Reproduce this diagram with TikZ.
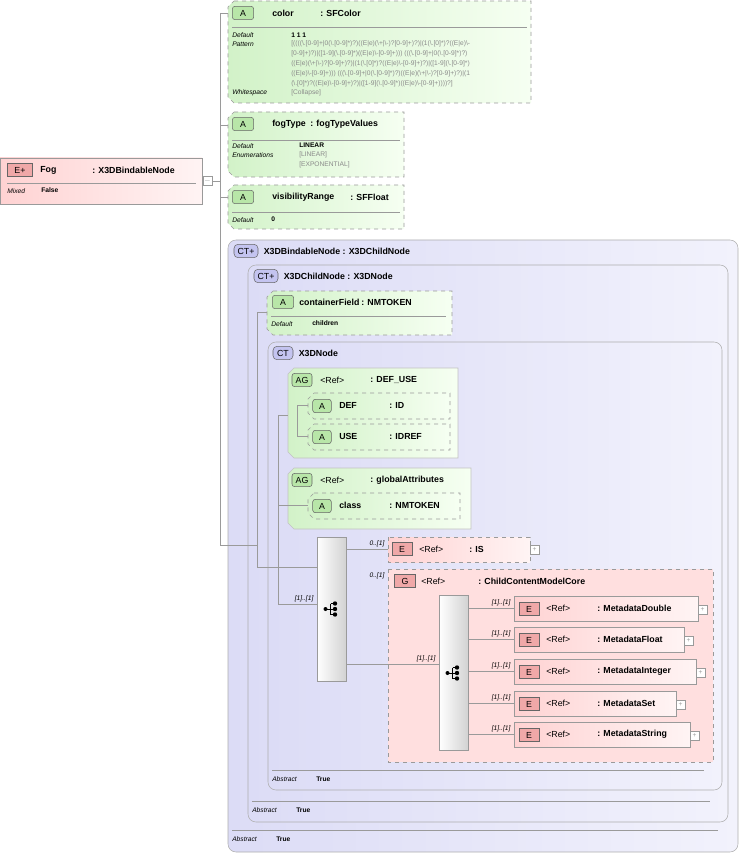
\documentclass[tikz,border=0pt]{standalone}
\usepackage{fontspec}
\setmainfont{Liberation Sans}
\usetikzlibrary{positioning,calc}
\definecolor{attrG}{HTML}{D2F2C8}
\definecolor{attrW}{HTML}{F6FFF2}
\definecolor{elemP}{HTML}{FFD2D2}
\definecolor{elemW}{HTML}{FFF4F4}
\definecolor{ctB}{HTML}{DCDCF6}
\definecolor{ctW}{HTML}{F2F2FC}
\definecolor{lineG}{HTML}{9A9A9A}
\definecolor{txtG}{HTML}{8A8A8A}
\definecolor{badgeG}{HTML}{B8E6A8}
\definecolor{badgeP}{HTML}{F0A8A8}
\definecolor{badgeL}{HTML}{C4C4F0}
\newcommand\nm{\fontsize{6.6}{7.5}\selectfont\bfseries}
\newcommand\sm{\fontsize{5}{6}\selectfont}
% chamfered left corners
\newcommand\chamf[4]{({#1+6},#2) -- (#3,#2) -- (#3,#4) -- ({#1+6},#4) -- (#1,{#4-6}) -- (#1,{#2+6}) -- cycle}
% sequence icon
\newcommand\seqicon[1]{%
  \fill ($(#1)+(-6,0)$) circle (2);
  \draw[line width=0.7pt] ($(#1)+(-6,0)$) -- ($(#1)+(-1,0)$);
  \draw[line width=0.7pt] ($(#1)+(-1,-5.5)$) -- ($(#1)+(-1,5.5)$);
  \foreach \dy in {-5.5,0,5.5} \draw[line width=0.7pt] ($(#1)+(-1,\dy)$) -- ($(#1)+(3,\dy)$);
  \foreach \dy in {-5.5,0,5.5} \fill ($(#1)+(3.5,\dy)$) circle (2.2);}
\tikzset{
  attr/.style={draw=lineG, dashed, left color=attrG, right color=attrW},
  agrp/.style={draw=lineG!60, left color=attrG, right color=attrW},
  elem/.style={draw=lineG, left color=elemP, right color=elemW},
  elemd/.style={draw=lineG, dashed, left color=elemP, right color=elemW},
  grp/.style={draw=lineG, dashed, fill=elemP!70},
  ct/.style={draw=lineG!80, rounded corners=6pt, left color=ctB, right color=ctW},
  seq/.style={draw=lineG, left color=white, right color=gray!35},
  conn/.style={draw=lineG, line width=0.5pt},
  badgeA/.style={draw=black!60, fill=badgeG, rounded corners=2pt, minimum width=16pt, minimum height=10pt, inner sep=0pt, font=\nm\mdseries},
  badgeE/.style={draw=black!60, fill=badgeP, minimum width=15pt, minimum height=10pt, inner sep=0pt, font=\nm\mdseries},
  badgeC/.style={draw=black!60, fill=badgeL, rounded corners=3pt, minimum width=18pt, minimum height=10pt, inner sep=0pt, font=\nm\mdseries},
  lbl/.style={anchor=west, inner sep=0pt, font=\nm},
  key/.style={anchor=west, inner sep=0pt, font=\sm\itshape},
  val/.style={anchor=west, inner sep=0pt, font=\sm\bfseries},
  gval/.style={anchor=west, inner sep=0pt, font=\sm, text=txtG},
  card/.style={anchor=south east, inner sep=1pt, font=\sm\itshape},
  pm/.style={draw=lineG, fill=white, minimum size=6.5pt, inner sep=0pt, font=\tiny, text=lineG},
}
\begin{document}
\begin{tikzpicture}[x=0.75pt, y=-0.75pt]
    \useasboundingbox (0,0) rectangle (742,855);

    % outer complex types
    \draw[ct] (228,240) rectangle (738,852);
    \node[badgeC] (ctbind) at (246,251) {CT+};
    \node[lbl, right=4pt of ctbind] {X3DBindableNode : X3DChildNode};
    \draw[lineG] (232,830) -- (718,830);
    \node[key] at (232,839) {Abstract};
    \node[val] at (276,839) {True};

    \draw[ct] (248,265) rectangle (728,822);
    \node[badgeC] (ctchild) at (266,276) {CT+};
    \node[lbl, right=4pt of ctchild] {X3DChildNode : X3DNode};
    \draw[lineG] (252,801) -- (710,801);
    \node[key] at (252,810) {Abstract};
    \node[val] at (296,810) {True};

    \draw[ct] (268,342) rectangle (722,790);
    \node[badgeC, minimum width=15pt] (ctnode) at (283,353) {CT};
    \node[lbl, right=4pt of ctnode] {X3DNode};
    \draw[lineG] (272,770) -- (704,770);
    \node[key] at (272,779) {Abstract};
    \node[val] at (316,779) {True};

    % Fog element
    \draw[elem] (0,158) rectangle (202,204);
    \node[badgeE, minimum width=19pt] (fogb) at (20,170) {E+};
    \node[lbl] at (40,170) {Fog};
    \node[lbl] at (92,170) {: X3DBindableNode};
    \draw[lineG] (7,183) -- (196,183);
    \node[key] at (7,191) {Mixed};
    \node[val] at (41,190) {False};
    \node[pm] (fog) at (207.5,181) {$-$};

    % color
    \draw[attr] \chamf{228}{1}{531}{103};
    \node[badgeA] at (243,13) {A};
    \node[lbl] at (272,13) {color};
    \node[lbl] at (320,13) {: SFColor};
    \draw[lineG] (232,27) -- (527,27);
    \node[key] at (232,35) {Default};
    \node[val] at (291,35) {1 1 1};
    \node[key] at (232,44) {Pattern};
    \node[gval] at (291,44) {\detokenize{[((((\.[0-9]+|0(\.[0-9]*)?)((E|e)(\+|\-)?[0-9]+)?)|(1(\.[0]*)?((E|e)\-}};
    \node[gval] at (291,54) {\detokenize{[0-9]+)?)|([1-9](\.[0-9]*)((E|e)\-[0-9]+))) (((\.[0-9]+|0(\.[0-9]*)?)}};
    \node[gval] at (291,64) {\detokenize{((E|e)(\+|\-)?[0-9]+)?)|(1(\.[0]*)?((E|e)\-[0-9]+)?)|([1-9](\.[0-9]*)}};
    \node[gval] at (291,74) {\detokenize{((E|e)\-[0-9]+))) (((\.[0-9]+|0(\.[0-9]*)?)((E|e)(\+|\-)?[0-9]+)?)|(1}};
    \node[gval] at (291,84) {\detokenize{(\.[0]*)?((E|e)\-[0-9]+)?)|([1-9](\.[0-9]*)((E|e)\-[0-9]+))))?]}};
    \node[key] at (232,93) {Whitespace};
    \node[gval] at (291,93) {[Collapse]};
    \coordinate (color) at (228,13);

    % fogType
    \draw[attr] \chamf{228}{112}{404}{177};
    \node[badgeA] at (243,124) {A};
    \node[lbl] at (272,124) {fogType};
    \node[lbl] at (310,124) {: fogTypeValues};
    \draw[lineG] (232,140) -- (400,140);
    \node[key] at (232,146) {Default};
    \node[val] at (299,145) {LINEAR};
    \node[key] at (232,155) {Enumerations};
    \node[gval] at (299,155) {[LINEAR]};
    \node[gval] at (299,165) {[EXPONENTIAL]};
    \coordinate (fogtype) at (228,125);

    % visibilityRange
    \draw[attr] \chamf{228}{185}{404}{229};
    \node[badgeA] at (243,197) {A};
    \node[lbl] at (272,197) {visibilityRange};
    \node[lbl] at (350,197) {: SFFloat};
    \draw[lineG] (232,212) -- (400,212);
    \node[key] at (232,220) {Default};
    \node[val] at (271,219) {0};
    \coordinate (visrange) at (228,197);

    % containerField
    \draw[attr] \chamf{267}{291}{452}{335};
    \node[badgeA] at (283,302) {A};
    \node[lbl] at (299,302) {containerField};
    \node[lbl] at (361,302) {: NMTOKEN};
    \draw[lineG] (271,316) -- (446,316);
    \node[key] at (271,324) {Default};
    \node[val] at (312,323) {children};
    \coordinate (contfield) at (267,312);

    % DEF_USE attribute group
    \draw[agrp] \chamf{288}{368}{458}{458};
    \node[badgeA, minimum width=15pt] at (302,380) {AG};
    \node[lbl, font=\nm\mdseries] at (320,380) {<Ref>};
    \node[lbl] at (370,380) {: DEF\_USE};
    \coordinate (defuse) at (288,415);
    \draw[attr] \chamf{308}{393}{450}{419};
    \node[badgeA, minimum width=14pt] at (322,406) {A};
    \node[lbl] at (339,405) {DEF};
    \node[lbl] at (389,405) {: ID};
    \coordinate (def) at (308,405);
    \draw[attr] \chamf{308}{424}{450}{450};
    \node[badgeA, minimum width=14pt] at (322,437) {A};
    \node[lbl] at (339,436) {USE};
    \node[lbl] at (389,436) {: IDREF};
    \coordinate (use) at (308,436);

    % globalAttributes
    \draw[agrp] \chamf{288}{468}{471}{529};
    \node[badgeA, minimum width=15pt] at (302,480) {AG};
    \node[lbl, font=\nm\mdseries] at (320,480) {<Ref>};
    \node[lbl] at (370,480) {: globalAttributes};
    \draw[attr] \chamf{308}{493}{460}{519};
    \node[badgeA, minimum width=14pt] at (322,506) {A};
    \node[lbl] at (339,505) {class};
    \node[lbl] at (389,505) {: NMTOKEN};
    \coordinate (class) at (308,505);

    % outer sequence
    \draw[seq] (317,537) rectangle (346,681);
    \coordinate (seqa) at (331.5,609);
    \coordinate (seqaL) at (317,604);
    \coordinate (seqaT) at (317,567);
    \coordinate (seqaR1) at (346,549);
    \coordinate (seqaR2) at (346,664);
    \seqicon{seqa}

    % IS
    \draw[elemd] (388,537) rectangle (530,562);
    \node[badgeE] at (402,549) {E};
    \node[lbl, font=\nm\mdseries] at (419,549) {<Ref>};
    \node[lbl] at (469,549) {: IS};
    \node[pm] at (534.5,549.5) {+};
    \coordinate (is) at (388,549);
    \node[card] at (386,548) {0..[1]};

    % group ChildContentModelCore
    \draw[grp] (388,569) rectangle (713,762);
    \node[badgeE, minimum width=16pt] at (405,581) {G};
    \node[lbl, font=\nm\mdseries] at (421,581) {<Ref>};
    \node[lbl] at (478,581) {: ChildContentModelCore};
    \coordinate (grp) at (388,664);
    \node[card] at (386,580) {0..[1]};

    % inner choice
    \draw[seq] (439,595) rectangle (468,750);
    \coordinate (seqb) at (453.5,673);
    \coordinate (seqbL) at (439,664);
    \seqicon{seqb}
    \node[card] at (437,663) {[1]..[1]};

    \foreach \y/\r/\name [count=\i] in {596/698/MetadataDouble, 627/684/MetadataFloat, 659/696/MetadataInteger, 691/676/MetadataSet, 722/690/MetadataString}{
      \draw[elem] (514,\y) rectangle (\r,\y+25);
      \node[badgeE] at (529,\y+13) {E};
      \node[lbl, font=\nm\mdseries] at (546,\y+12) {<Ref>};
      \node[lbl] at (597,\y+12) {: \name};
      \node[pm] at (\r+4.5,\y+13.5) {+};
      \coordinate (m\i) at (514,\y+12);
      \coordinate (b\i) at (468,\y+12);
      \node[card] at (512,\y+11) {[1]..[1]};
      \draw[conn] (b\i) -- (m\i);
    }

    % connectors
    \coordinate (j1) at (220,181);
    \coordinate (j1t) at (220,13);
    \coordinate (j1b) at (220,545);
    \coordinate (j2t) at (257,312);
    \coordinate (j2a) at (257,545);
    \coordinate (j2b) at (257,567);
    \coordinate (j3t) at (278,415);
    \coordinate (j3a) at (278,505);
    \coordinate (j3b) at (278,604);
    \coordinate (j4t) at (297,405);
    \coordinate (j4b) at (297,436);
    \draw[conn] (fog.east) -- (j1);
    \draw[conn] (j1t) -- (j1b) -- (j2a);
    \draw[conn] (j1t) -- (color);
    \draw[conn] (j1 |- fogtype) -- (fogtype);
    \draw[conn] (j1 |- visrange) -- (visrange);
    \draw[conn] (j2t) -- (j2b) -- (seqaT);
    \draw[conn] (j2t) -- (contfield);
    \draw[conn] (j3t) -- (j3b) -- (seqaL);
    \draw[conn] (j3t) -- (defuse);
    \draw[conn] (j3a) -- (class);
    \draw[conn] (j4t) -- (j4b);
    \draw[conn] (j4t) -- (def);
    \draw[conn] (j4b) -- (use);
    \draw[conn] (seqaR1) -- (is);
    \draw[conn] (seqaR2) -- (grp);
    \draw[conn] (grp) -- (seqbL);
    \node[card] at (315,603) {[1]..[1]};
\end{tikzpicture}
\end{document}
